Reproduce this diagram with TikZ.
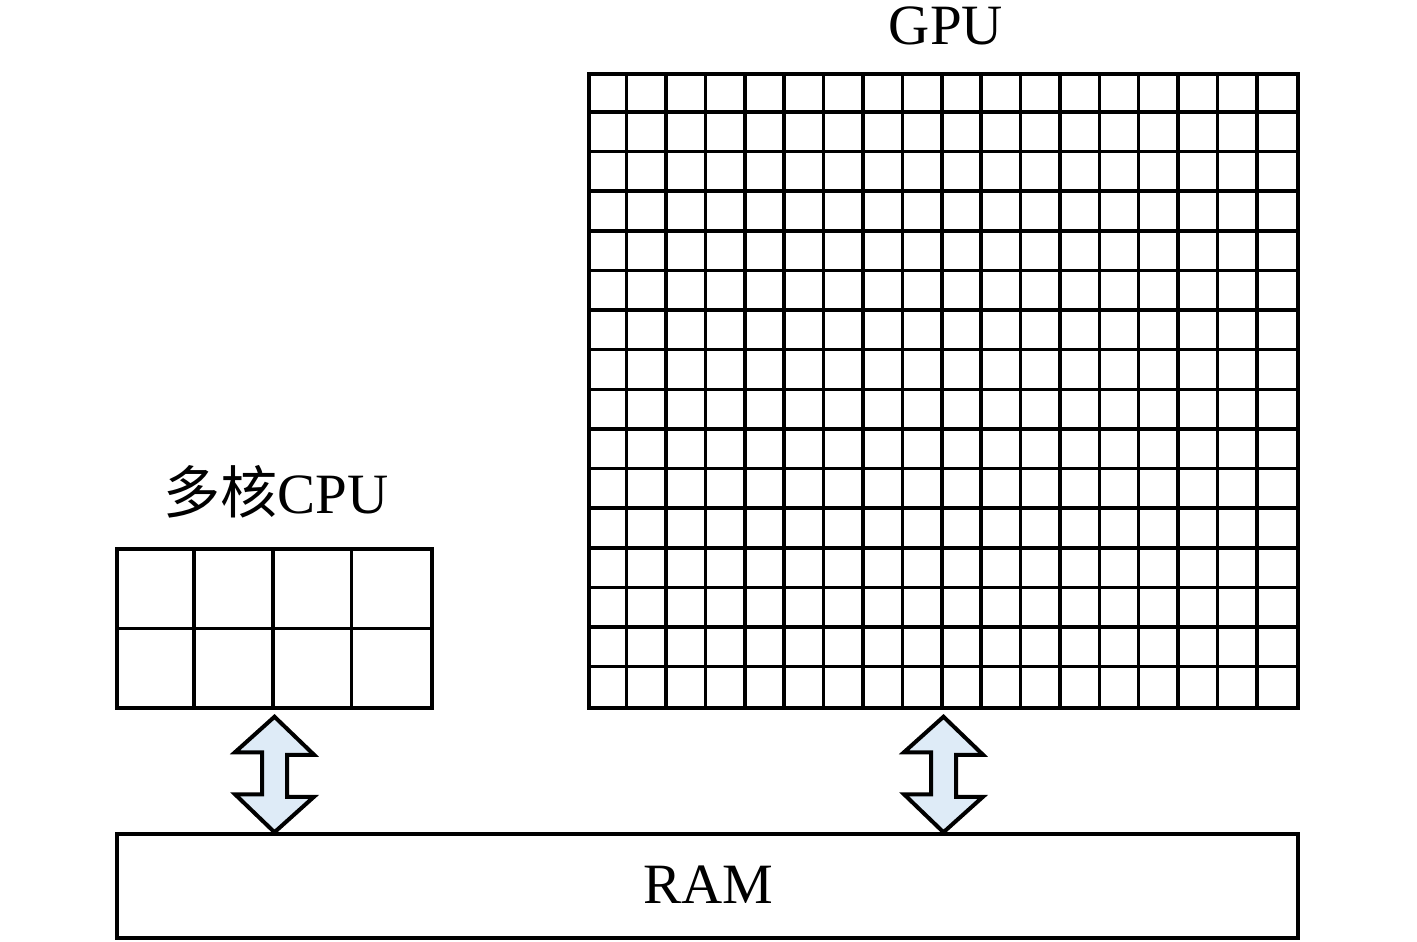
\documentclass[tikz,border=0pt]{standalone}
\usepackage{fontspec}
\setmainfont{Liberation Serif}
\newfontfamily\cjk{Noto Sans CJK SC}
\usetikzlibrary{calc}
\definecolor{arrowfill}{RGB}{222,235,247}
\begin{document}
\begin{tikzpicture}[x=1pt,y=-1pt,
  box/.style={draw=black, line width=3.5pt, inner sep=0pt, fill=white},
  lbl/.style={anchor=base, inner sep=0pt, font=\fontsize{57}{62}\selectfont},
  gridline/.style={line width=3.5pt},
  dblarrow/.style={draw=black, line width=4pt, fill=arrowfill, line join=miter}]
\useasboundingbox (0,0) rectangle (1417,942);

% CPU block
\node[box, minimum width=315pt, minimum height=159pt] (cpu) at (274.5,628.5) {};
\foreach \i in {1,2,3}
  \draw[gridline] ([xshift=\i*78.75pt]cpu.north west) -- ([xshift=\i*78.75pt]cpu.south west);
\draw[gridline] (cpu.west) -- (cpu.east);

% GPU block
\node[box, minimum width=709pt, minimum height=634pt] (gpu) at (943.5,391) {};
\foreach \i in {1,...,17}
  \draw[gridline] ([xshift=\i*39.389pt]gpu.north west) -- ([xshift=\i*39.389pt]gpu.south west);
\foreach \j in {1,...,15}
  \draw[gridline] ([yshift=-\j*39.625pt]gpu.north west) -- ([yshift=-\j*39.625pt]gpu.north east);

% RAM
\node[box, minimum width=1181pt, minimum height=104pt] (ram) at (707.5,886) {};

% labels
\node[lbl] (gpulbl) at (946,45) {GPU};
\node[lbl] (cpulbl) at (276,513) {{\cjk 多核}CPU};
\node[lbl] (ramlbl) at (708,903) {RAM};

% double arrows
\path (cpu.south) ++(0,7) coordinate (ca);
\path (gpu.south) ++(0,7) coordinate (ga);
\draw[dblarrow] (ca) -- ++(39.5,38) -- ++(-27,0) -- ++(0,42) -- ++(27,0)
  -- (ca |- ram.north) -- ++(-39.5,-38) -- ++(27,0) -- ++(0,-42) -- ++(-27,0) -- cycle;
\draw[dblarrow] (ga) -- ++(39.5,38) -- ++(-27,0) -- ++(0,42) -- ++(27,0)
  -- (ga |- ram.north) -- ++(-39.5,-38) -- ++(27,0) -- ++(0,-42) -- ++(-27,0) -- cycle;
\end{tikzpicture}
\end{document}
